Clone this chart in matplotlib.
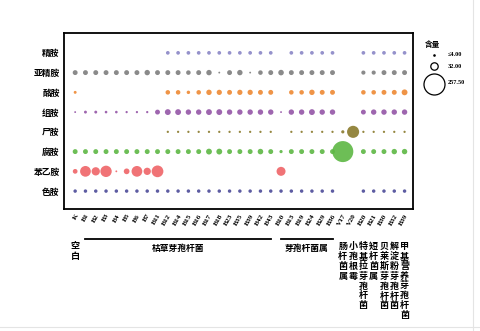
import matplotlib.pyplot as plt
import matplotlib.transforms as mtransforms
import numpy as np

plt.rcParams['font.family'] = ['Noto Sans CJK SC', 'DejaVu Sans']

nan = np.nan

# strain codes along the x axis
strains = ['K', 'B1', 'B2', 'B3', 'B4', 'B5', 'B6', 'B7', 'B11', 'B12', 'B14',
           'B15', 'B16', 'B17', 'B18', 'B23', 'B35', 'B39', 'B42', 'B43',
           'B10', 'B13', 'B19', 'B24', 'B29', 'B36', 'V17', 'V20',
           'B20', 'B21', 'B30', 'B32', 'B39']

amines = ['精胺', '亚精胺', '酪胺', '组胺', '尸胺', '腐胺', '苯乙胺', '色胺']
colors = ['#8a86c6', '#7d7d7d', '#ee8933', '#9455a6', '#8a7a2c', '#5db744', '#ef6467', '#4b4a98']

# content values read off the bubbles (nan = not detected)
spermine =   [nan] * 9 + [8] * 11 + [nan] + [8] * 5 + [nan, nan] + [8] * 5
spermidine = [14, 14, 14, 14, 14, 14, 14, 17, 14, 14, 14, 12, 14, 17, 2, 14, 17, 2, 12, 14,
              18, 14, 14, 14, 14, 14, nan, nan, 10, 10, 14, 14, 14]
tyramine =   [5] + [nan] * 8 + [12, 12, 7, 12, 17, 16, 14, 16, 16, 14, 14,
              nan, 12, 12, 17, 14, 14, nan, nan, 12, 12, 14, 14, 20]
histamine =  [2, 5, 5, 4, 4, 3, 3, 3, 14, 20, 20, 17, 17, 20, 20, 17, 17, 17, 17, 17,
              2, 17, 17, 20, 17, 17, nan, nan, 14, 17, 17, 17, 17]
cadaverine = [nan] * 9 + [3] * 11 + [nan] + [3] * 5 + [6, 85] + [3] * 5
putrescine = [14, 14, 14, 14, 14, 14, 14, 14, 14, 14, 14, 14, 14, 20, 20, 14, 14, 14, 18, 14,
              6, 14, 14, 14, 14, 14, 257.5, nan, 14, 14, 14, 17, 17]
phenethylamine = [13, 67, 40, 75, 2, 19, 67, 31, 80] + [nan] * 11 + [47] + [nan] * 12
tryptamine = [7] * 26 + [nan, nan] + [7] * 5

rows = [spermine, spermidine, tyramine, histamine, cadaverine, putrescine,
        phenethylamine, tryptamine]

legend_values = [4.0, 32.0, 257.5]
legend_labels = ['≤4.00', '32.00', '257.50']

# x groups under the axis
span_groups = [('枯草芽孢杆菌', 1, 19), ('芽孢杆菌属', 20, 25)]
single_groups = [('空白', 0), ('肠杆菌属', 26), ('小孢根霉', 27), ('特基拉芽孢杆菌', 28),
                 ('短杆菌属', 29), ('贝莱斯芽孢杆菌', 30), ('解淀粉芽孢杆菌', 31),
                 ('甲基营养芽孢杆菌', 32)]

size_k = 0.89  # points^2 per unit content

fig = plt.figure(figsize=(4.8, 3.31), dpi=100)
ax = fig.add_axes([0.133, 0.369, 0.727, 0.531])

x = np.arange(len(strains))
for i, (vals, c) in enumerate(zip(rows, colors)):
    v = np.array(vals, dtype=float)
    m = ~np.isnan(v)
    ax.scatter(x[m], np.full(m.sum(), i), s=v[m] * size_k, color=c,
               alpha=0.9, linewidths=0, zorder=3)

ax.set_xlim(-1.1, 32.8)
ax.set_ylim(7.9, -1.0)
ax.set_yticks(range(len(amines)))
ax.set_yticklabels(amines, fontsize=6.3, fontweight='bold')
ax.set_xticks(x)
ax.set_xticklabels(strains, fontsize=5.3, fontweight='bold', family='Liberation Serif',
                   rotation=60, ha='right', rotation_mode='anchor')
ax.tick_params(length=0, pad=3)
for sp in ax.spines.values():
    sp.set_linewidth(1.3)

def fy(px):
    return 1 - px / 331.0

trans = mtransforms.blended_transform_factory(ax.transData, fig.transFigure)
for name, a, b in span_groups:
    ax.plot([a, b], [fy(239), fy(239)], color='black', lw=1.3, transform=trans,
            clip_on=False)
    ax.text((a + b) / 2, fy(244), name, transform=trans, ha='center', va='top',
            fontsize=6.3, fontweight='bold')
for name, col in single_groups:
    ax.text(col, fy(242), '\n'.join(name), transform=trans, ha='center', va='top',
            fontsize=6.5, fontweight='bold', linespacing=1.12)

# size legend
lax = fig.add_axes([420 / 480, fy(100), 60 / 480, 65 / 331])
lax.set_xlim(0, 60)
lax.set_ylim(100, 35)
lax.axis('off')
lax.text(12, 45, '含量', fontsize=5.5, fontweight='bold', ha='center', va='center')
ly = [55, 66, 84]
for j, (val, lab) in enumerate(zip(legend_values, legend_labels)):
    if j == 0:
        lax.scatter([14], [ly[j]], s=val * size_k, color='black', linewidths=0)
    else:
        lax.scatter([14], [ly[j]], s=val * size_k, facecolor='white',
                    edgecolor='black', linewidths=0.9)
    lax.text(28, ly[j] - (2 if j == 2 else 0), lab, fontsize=4.5, fontweight='bold',
             family='Liberation Serif', va='center', ha='left')

# faint page edges from the scan
fig.add_artist(plt.Line2D([473 / 480, 473 / 480], [0, 1], color='#e4e4e4', lw=0.8))
fig.add_artist(plt.Line2D([0, 1], [fy(327), fy(327)], color='#e4e4e4', lw=0.8))

fig.savefig('out.png', dpi=100)
